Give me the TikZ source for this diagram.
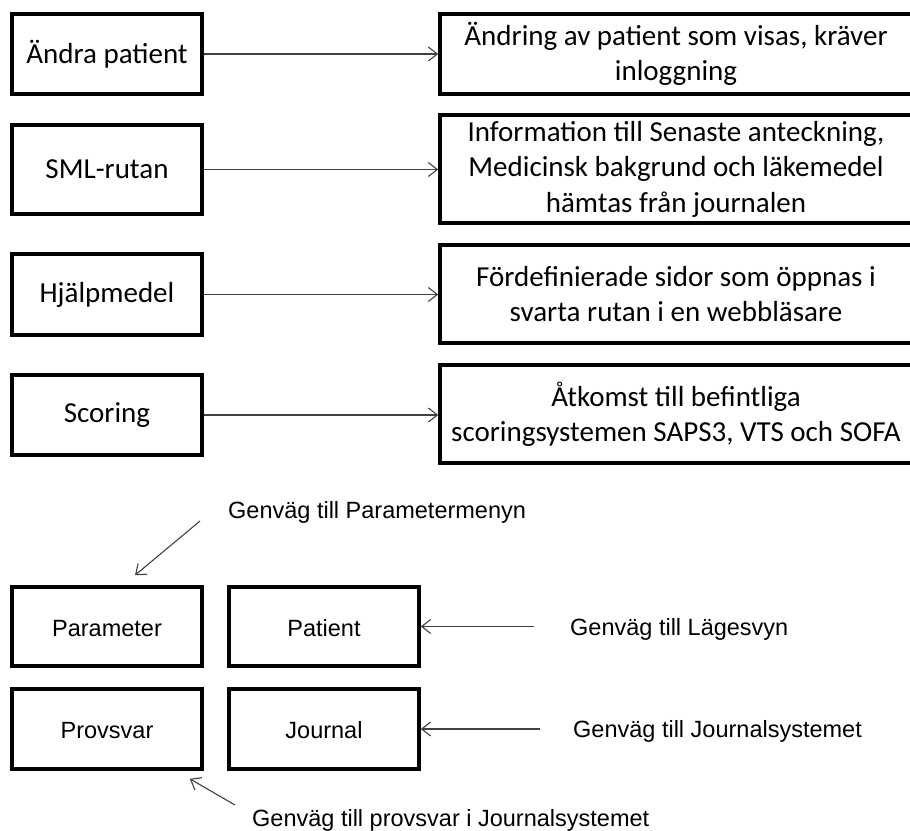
\documentclass[tikz,border=0pt]{standalone}
\usepackage{fontspec}
\setmainfont{Carlito}
\newfontfamily\arialfont{Liberation Sans}
\usetikzlibrary{arrows.meta}

\begin{document}
\begin{tikzpicture}[x=1pt,y=-1pt,
  box/.style={draw, line width=3.6pt, minimum width=190pt, inner sep=0pt,
    align=center, font=\fontsize{29}{35.5}\selectfont},
  widebox/.style={box, minimum width=472pt},
  smallbox/.style={box, text height=21pt, text depth=2pt,
    font=\arialfont\fontsize{23.5}{28}\selectfont},
  note/.style={anchor=west, inner sep=0pt, text height=21pt, text depth=2pt,
    font=\arialfont\fontsize{23.5}{28}\selectfont},
  pil/.style={draw=black!75, line width=1.1pt, -{Straight Barb[length=9pt,width=14pt]}}]
\useasboundingbox (0,0) rectangle (910,830);
\clip (0,0) rectangle (910,830);

% vänster kolumn
\node[box, minimum height=80pt] (andra) at (107,54) {Ändra patient};
\node[box, minimum height=89pt] (sml) at (107,169.5) {SML-rutan};
\node[box, minimum height=81pt] (hjalp) at (107,294.5) {Hjälpmedel};
\node[box, minimum height=80pt] (scoring) at (107,415) {Scoring};

% höger kolumn
\node[widebox, minimum height=80pt] (andrainfo) at (676,54)
  {Ändring av patient som visas, kräver\\inloggning};
\node[widebox, minimum height=108pt] (smlinfo) at (676,169)
  {Information till Senaste anteckning,\\Medicinsk bakgrund och läkemedel\\hämtas från journalen};
\node[widebox, minimum height=98pt] (hjalpinfo) at (676,294)
  {Fördefinierade sidor som öppnas i\\svarta rutan i en webbläsare};
\node[widebox, minimum height=98pt] (scoringinfo) at (676,414)
  {Åtkomst till befintliga\\scoringsystemen SAPS3, VTS och SOFA};

\draw[pil] (andra.east) -- (andra.east -| andrainfo.west);
\draw[pil] (sml.east) -- (sml.east -| smlinfo.west);
\draw[pil] (hjalp.east) -- (hjalp.east -| hjalpinfo.west);
\draw[pil] (scoring.east) -- (scoring.east -| scoringinfo.west);

% genvägar
\node[smallbox, minimum height=79pt] (param) at (107,626.5) {Parameter};
\node[smallbox, minimum height=79pt] (patient) at (324,626.5) {Patient};
\node[smallbox, minimum height=80pt] (provsvar) at (107,729) {Provsvar};
\node[smallbox, minimum height=80pt] (journal) at (324,729) {Journal};

\node[note] (paramtxt) at (228,509) {Genväg till Parametermenyn};
\node[note] (patienttxt) at (570,626) {Genväg till Lägesvyn};
\node[note] (journaltxt) at (573,728) {Genväg till Journalsystemet};
\node[note] (provsvartxt) at (252,817) {Genväg till provsvar i Journalsystemet};

\draw[pil] ([xshift=-28pt,yshift=-12pt]paramtxt.west) -- ([xshift=28pt,yshift=10pt]param.north);
\draw[pil] ([xshift=-36pt]patienttxt.west |- patient.east) -- (patient.east);
\draw[pil] ([xshift=-33pt]journaltxt.west |- journal.east) -- (journal.east);
\draw[pil] ([xshift=-17pt,yshift=12pt]provsvartxt.west) -- ([xshift=-14pt,yshift=-8pt]provsvar.south east);
\end{tikzpicture}
\end{document}
